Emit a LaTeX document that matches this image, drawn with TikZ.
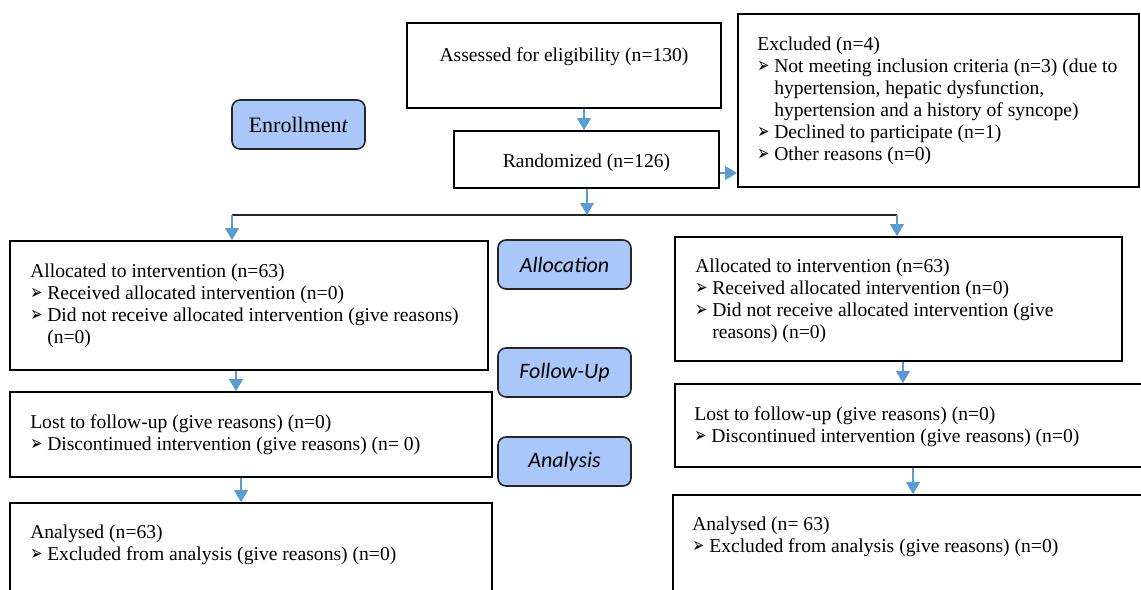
\documentclass[tikz,border=0pt]{standalone}
\usepackage{fontspec}
\setmainfont{Liberation Serif}
\newfontfamily\dejavu{DejaVu Sans}
\newfontfamily\carlito{Carlito}
\usetikzlibrary{fit,arrows.meta}
\definecolor{arrowblue}{RGB}{91,155,213}
\definecolor{labelblue}{RGB}{170,199,250}
\newcommand{\bul}{\makebox[12.75pt][l]{\raisebox{-0.3pt}{\scalebox{0.72}[1.05]{\dejavu\fontsize{15}{15}\selectfont ➢}}}}
\newcommand{\cont}{\hspace*{12.75pt}}
\newcommand{\fst}{\rule{0pt}{11pt}}
\begin{document}
\begin{tikzpicture}[x=0.75pt,y=-0.75pt,
  box/.style={draw=black, line width=1.2pt, inner sep=0pt},
  stage/.style={draw=black!85, line width=1.2pt, rounded corners=6pt, fill=labelblue, inner sep=0pt,
    minimum width=99.75pt, minimum height=36.75pt},
  txt/.style={anchor=north west, inner sep=0pt, align=left, font=\fontsize{14.7}{16.5}\selectfont},
  ctxt/.style={anchor=base, inner sep=0pt, font=\fontsize{14.7}{16.5}\selectfont},
  stagetxt/.style={font=\carlito\itshape\fontsize{16.5}{18}\selectfont},
  arr/.style={draw=arrowblue, line width=2pt, -{Triangle[width=10pt,length=9pt]}},
  splitline/.style={draw=black!85, line width=1.2pt}
]
\useasboundingbox (0,0) rectangle (1141,589);

% boxes
\node[box, fit={(407,23) (721,108)}] (assess) {};
\node[box, fit={(738,14) (1139,187)}] (excl) {};
\node[box, fit={(454,131) (719,188)}] (rand) {};
\node[box, fit={(10,241) (488,370)}] (allocL) {};
\node[box, fit={(10,392) (492,477)}] (lostL) {};
\node[box, fit={(10,503) (492,610)}] (anaL) {};
\node[box, fit={(675,237) (1122,361)}] (allocR) {};
\node[box, fit={(675,384) (1160,467)}] (lostR) {};
\node[box, fit={(673,495) (1160,610)}] (anaR) {};

% stage labels
\node[stage, font=\fontsize{16.5}{18}\selectfont] (enroll) at (298.5,124.5) {Enrollmen\textit{t}};
\node[stage, stagetxt] (stAlloc) at (564.5,264.5) {Allocation};
\node[stage, stagetxt] (stFollow) at (564.5,372.5) {Follow-Up};
\node[stage, stagetxt] (stAnalysis) at (564.5,461.5) {Analysis};

% texts
\node[ctxt] (tAssess) at (564,61) {Assessed for eligibility (n=130)};
\node[ctxt] (tRand) at (586.5,167) {Randomized (n=126)};
\node[txt] (tExcl) at (757,35.3) {\fst Excluded (n=4)\\
\bul Not meeting inclusion criteria (n=3) (due to\\
\cont hypertension, hepatic dysfunction,\\
\cont hypertension and a history of syncope)\\
\bul Declined to participate (n=1)\\
\bul Other reasons (n=0)};
\node[txt] (tAllocL) at (30,262.3) {\fst Allocated to intervention (n=63)\\
\bul Received allocated intervention (n=0)\\
\bul Did not receive allocated intervention (give reasons)\\
\cont (n=0)};
\node[txt] (tLostL) at (30,413.3) {\fst Lost to follow-up (give reasons) (n=0)\\
\bul Discontinued intervention (give reasons) (n= 0)};
\node[txt] (tAnaL) at (30,523.3) {\fst Analysed (n=63)\\
\bul Excluded from analysis (give reasons) (n=0)};
\node[txt] (tAllocR) at (695,257.3) {\fst Allocated to intervention (n=63)\\
\bul Received allocated intervention (n=0)\\
\bul Did not receive allocated intervention (give\\
\cont reasons) (n=0)};
\node[txt] (tLostR) at (694,405.3) {\fst Lost to follow-up (give reasons) (n=0)\\
\bul Discontinued intervention (give reasons) (n=0)};
\node[txt] (tAnaR) at (692,515.3) {\fst Analysed (n= 63)\\
\bul Excluded from analysis (give reasons) (n=0)};

% helper coordinates
\coordinate (ax) at (584,0);
\coordinate (ey) at (0,173);
\coordinate (splitL) at (232,215);
\coordinate (splitM) at (587,215);
\coordinate (splitR) at (897,215);
\coordinate (xL1) at (236,0);
\coordinate (xL2) at (241,0);
\coordinate (xR1) at (903,0);
\coordinate (xR2) at (913,0);

% connectors
\draw[arr] (assess.south -| ax) -- (rand.north -| ax);
\draw[arr] (rand.east |- ey) -- (excl.west |- ey);
\draw[splitline] (splitL) -- (splitR);
\draw[arr] (rand.south -| splitM) -- (splitM);
\draw[arr] (splitL) -- (allocL.north -| splitL);
\draw[arr] (splitR) -- (allocR.north -| splitR);
\draw[arr] (allocL.south -| xL1) -- (lostL.north -| xL1);
\draw[arr] (lostL.south -| xL2) -- (anaL.north -| xL2);
\draw[arr] (allocR.south -| xR1) -- (lostR.north -| xR1);
\draw[arr] (lostR.south -| xR2) -- (anaR.north -| xR2);
\end{tikzpicture}
\end{document}
